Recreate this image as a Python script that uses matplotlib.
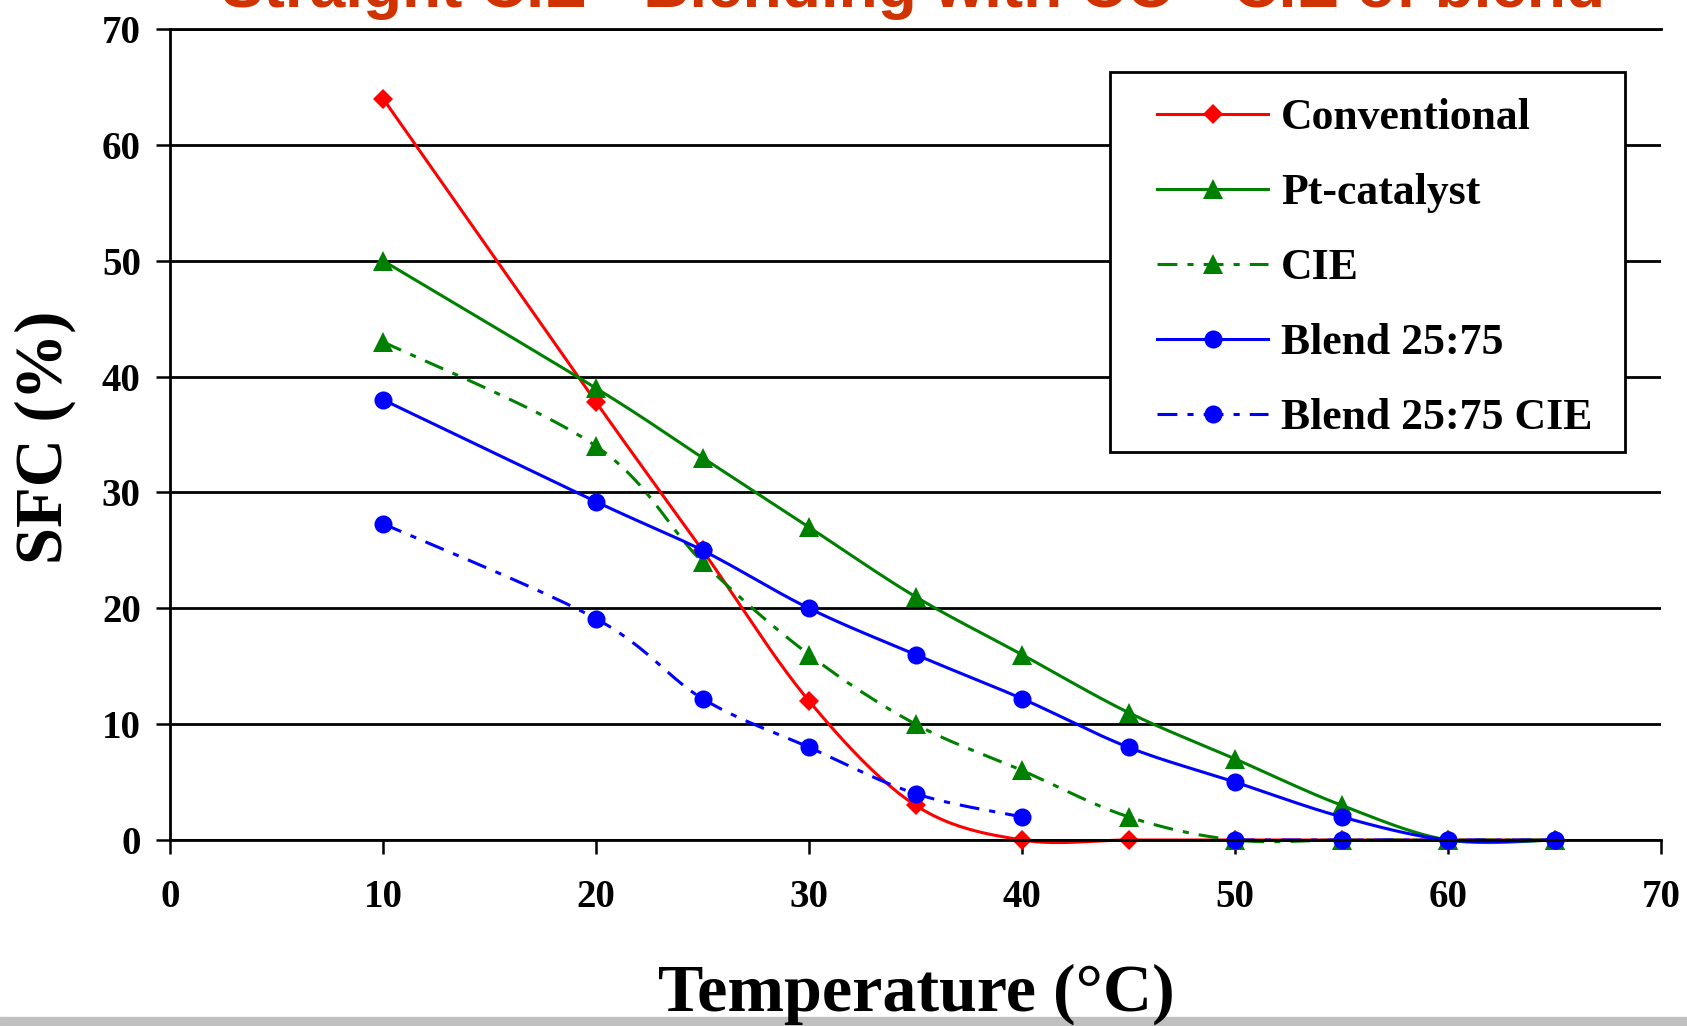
import numpy as np
import matplotlib
matplotlib.use('Agg')
import matplotlib.pyplot as plt
from matplotlib.patches import Rectangle

# values (SFC % vs temperature)
temps = [10, 20, 25, 30, 35, 40, 45, 50, 55, 60, 65]
conventional = [64, 37.8, 25, 12, 3, 0, 0, 0, 0, 0, 0]
pt_catalyst = [50, 39, 33, 27, 21, 16, 11, 7, 3, 0, 0]
cie = [43, 34, 24, 16, 10, 6, 2, 0, 0, 0, 0]
blend = [38, 29.2, 25, 20, 16, 12.2, 8, 5, 2, 0, 0]
blend_cie = [27.3, 19.1, 12.2, 8, 4, 2, np.nan, 0, 0, 0, 0]

labels = ['Conventional', 'Pt-catalyst', 'CIE', 'Blend 25:75', 'Blend 25:75 CIE']
series = [conventional, pt_catalyst, cie, blend, blend_cie]
colors = ['#FF0000', '#008000', '#008000', '#0000FF', '#0000FF']
markers = ['D', '^', '^', 'o', 'o']
msizes = [10.5, 14.5, 14.5, 13, 13]
dashdot = (0, (6.5, 3.3, 2, 3.3))
styles = ['-', '-', dashdot, '-', dashdot]

serif = 'Liberation Serif'


def smooth(x, y, n=24):
    # excel-like smoothed line (catmull-rom), NaN splits the line
    x = np.asarray(x, float)
    y = np.asarray(y, float)
    xs, ys, marks = [], [], []
    ok = ~np.isnan(y)
    runs, cur = [], []
    for i in range(len(x)):
        if ok[i]:
            cur.append(i)
        elif cur:
            runs.append(cur)
            cur = []
    if cur:
        runs.append(cur)
    for run in runs:
        if xs:
            xs.append(np.nan)
            ys.append(np.nan)
        px, py = x[run], y[run]
        if len(run) == 1:
            marks.append(len(xs))
            xs.append(px[0]); ys.append(py[0])
            continue
        ex = np.concatenate([[px[0]], px, [px[-1]]])
        ey = np.concatenate([[py[0]], py, [py[-1]]])
        for k in range(len(px) - 1):
            p0x, p1x, p2x, p3x = ex[k:k + 4]
            p0y, p1y, p2y, p3y = ey[k:k + 4]
            t = np.linspace(0, 1, n, endpoint=False)
            b0 = (1 - t) ** 3
            b1 = 3 * t * (1 - t) ** 2
            b2 = 3 * t ** 2 * (1 - t)
            b3 = t ** 3
            c1x, c1y = p1x + (p2x - p0x) / 6, p1y + (p2y - p0y) / 6
            c2x, c2y = p2x - (p3x - p1x) / 6, p2y - (p3y - p1y) / 6
            marks.append(len(xs))
            xs.extend(b0 * p1x + b1 * c1x + b2 * c2x + b3 * p2x)
            ys.extend(b0 * p1y + b1 * c1y + b2 * c2y + b3 * p2y)
        marks.append(len(xs))
        xs.append(px[-1]); ys.append(py[-1])
    return np.array(xs), np.array(ys), marks


fig = plt.figure(figsize=(16.87, 10.26), dpi=100)
ax = fig.add_axes([170 / 1687, 1 - 840 / 1026, 1491 / 1687, 811 / 1026])

for vals, lab, c, m, ms, ls in zip(series, labels, colors, markers, msizes, styles):
    cx, cy, mk = smooth(temps, vals)
    ax.plot(cx, cy, color=c, linestyle=ls, linewidth=2.2, marker=m, markersize=ms,
            markevery=mk, markeredgewidth=0, label=lab, clip_on=False)

ax.set_xlim(0, 70)
ax.set_ylim(0, 70)
ax.set_xticks(range(0, 71, 10))
ax.set_yticks(range(0, 71, 10))
ax.yaxis.grid(True, color='black', linewidth=2)
ax.spines['right'].set_visible(False)
for s in ['left', 'bottom', 'top']:
    ax.spines[s].set_linewidth(2)
ax.tick_params(axis='both', direction='out', length=10, width=1.8)
ax.tick_params(axis='x', pad=18)
ax.tick_params(axis='y', pad=11)
for t in ax.get_xticklabels() + ax.get_yticklabels():
    t.set_family(serif)
    t.set_fontweight('bold')
    t.set_fontsize(28)

# legend without its own frame, frame drawn as a separate box behind it
leg = ax.legend(loc='upper left', bbox_to_anchor=(1157 / 1687, 1 - 98 / 1026),
                bbox_transform=fig.transFigure, prop={'family': serif, 'weight': 'bold', 'size': 31.5},
                frameon=False, handlelength=2.54, handletextpad=0.3, labelspacing=0.8,
                borderpad=0, borderaxespad=0)
leg.set_zorder(6)
box = Rectangle((1110 / 1687, 1 - 452 / 1026), 515 / 1687, 380 / 1026,
                transform=fig.transFigure, facecolor='white',
                edgecolor='black', linewidth=2, zorder=5, clip_on=False)
ax.add_patch(box)

fig.text(45 / 1687, 1 - 437 / 1026, 'SFC (%)', rotation=90, ha='center', va='center',
         family=serif, fontweight='bold', fontsize=48)
fig.text(916 / 1687, 1 - 1011 / 1026, 'Temperature (°C)', ha='center', va='baseline',
         family=serif, fontweight='bold', fontsize=49, zorder=5)
fig.text(913 / 1687, 1 - 7 / 1026, 'Straight CIE - Blending with CO - CIE of blend',
         ha='center', va='baseline', family='Liberation Sans', fontweight='bold',
         fontsize=46, color='#D03200')

fig.patches.append(Rectangle((0, 0), 1, 9 / 1026, transform=fig.transFigure,
                             color='#C0C0C0', zorder=1))

fig.savefig('out.png', dpi=100)
